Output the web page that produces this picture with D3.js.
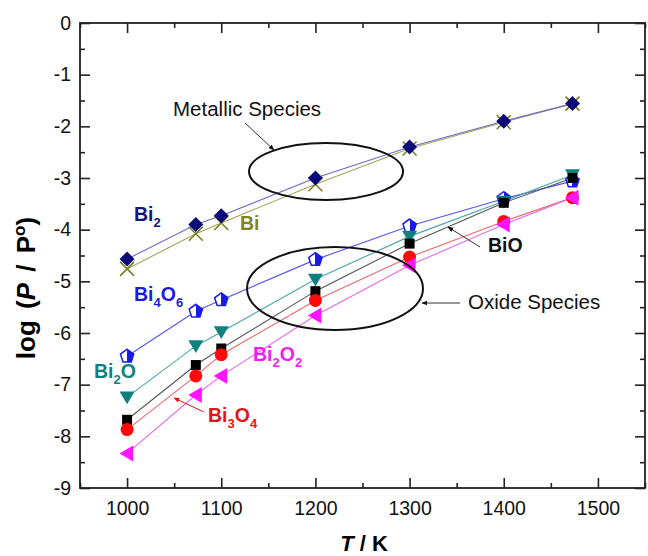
<!DOCTYPE html>
<html lang="en">
<head>
<meta charset="UTF-8">
<title>Bi vapour species</title>
<style>
  body { margin: 0; background: #fff; }
  svg text { font-family: "Liberation Sans", Arial, sans-serif; }
</style>
</head>
<body>
<script src="https://cdn.jsdelivr.net/npm/d3@7/dist/d3.min.js"></script>
<script>
// temperatures (K) and log(P/P°)
const temps = [1000, 1073, 1100, 1200, 1300, 1400, 1473]
const bi2   = [-4.57, -3.90, -3.73, -3.00, -2.40, -1.90, -1.56]
const bi    = [-4.76, -4.08, -3.87, -3.12, -2.43, -1.92, -1.56]
const bi4o6 = [-6.45, -5.58, -5.36, -4.58, -3.93, -3.40, -3.06]
const bi2o  = [-7.24, -6.25, -5.98, -4.96, -4.13, -3.45, -2.94]
const bio   = [-7.68, -6.62, -6.30, -5.19, -4.27, -3.48, -3.00]
const bi3o4 = [-7.87, -6.83, -6.42, -5.37, -4.53, -3.84, -3.38]
const bi2o2 = [-8.33, -7.20, -6.83, -5.66, -4.69, -3.90, -3.38]

const xMajor = [1000, 1100, 1200, 1300, 1400, 1500]
const xMinor = [950, 1050, 1150, 1250, 1350, 1450, 1550]
const yMajor = [0, -1, -2, -3, -4, -5, -6, -7, -8, -9]
const yMinor = [-0.5, -1.5, -2.5, -3.5, -4.5, -5.5, -6.5, -7.5, -8.5]

const width = 648
const height = 556
const pLeft = 80, pRight = 645, pTop = 23, pBottom = 488

const svg = d3.select('body').append('svg')
  .attr('width', width)
  .attr('height', height)

const x = d3.scaleLinear().domain([950, 1550]).range([pLeft, pRight])
const y = d3.scaleLinear().domain([-9, 0]).range([pBottom, pTop])

// ---- axes (ticks point inward, mirrored on top/right)
function tickAxis(axis, tr, size, vals, labels) {
  const g = svg.append('g').attr('transform', tr)
    .call(axis.tickValues(vals).tickSize(size).tickPadding(9)
      .tickFormat(labels ? (d => String(d)) : ''))
  g.select('.domain').remove()
  g.selectAll('line').attr('stroke', '#222').attr('stroke-width', 1.6)
  g.selectAll('text').attr('font-size', 19.5).attr('fill', '#111')
  return g
}
const bx = tickAxis(d3.axisBottom(x), `translate(0,${pBottom})`, -10, xMajor, true)
bx.selectAll('text').attr('y', 27).attr('dy', 0)
tickAxis(d3.axisBottom(x), `translate(0,${pBottom})`, -5, xMinor, false)
tickAxis(d3.axisTop(x), `translate(0,${pTop})`, -10, xMajor, false)
tickAxis(d3.axisTop(x), `translate(0,${pTop})`, -5, xMinor, false)
tickAxis(d3.axisLeft(y), `translate(${pLeft},0)`, -10, yMajor, true)
tickAxis(d3.axisLeft(y), `translate(${pLeft},0)`, -5, yMinor, false)
tickAxis(d3.axisRight(y), `translate(${pRight},0)`, -10, yMajor, false)
tickAxis(d3.axisRight(y), `translate(${pRight},0)`, -5, yMinor, false)

svg.append('rect')
  .attr('x', pLeft).attr('y', pTop)
  .attr('width', pRight - pLeft).attr('height', pBottom - pTop)
  .attr('fill', 'none').attr('stroke', '#222').attr('stroke-width', 1.8)

// axis titles
const yt = svg.append('text')
  .attr('transform', `translate(35,288) rotate(-90)`)
  .attr('text-anchor', 'middle')
  .attr('font-size', 26).attr('font-weight', 'bold')
  .attr('word-spacing', 4)
yt.append('tspan').text('log (')
yt.append('tspan').attr('font-style', 'italic').text('P')
yt.append('tspan').text(' / P')
yt.append('tspan').attr('font-size', 17).attr('dy', -10).text('o')
yt.append('tspan').attr('dy', 10).text(')')

const xt = svg.append('text')
  .attr('x', 364).attr('y', 551)
  .attr('text-anchor', 'middle')
  .attr('font-size', 22).attr('font-weight', 'bold')
xt.append('tspan').attr('font-style', 'italic').text('T')
xt.append('tspan').text(' / K')

// ---- marker shapes
const sym = {
  diamond: r => `M0,${-r}L${r},0L0,${r}L${-r},0Z`,
  cross: r => `M${-r},${-r}L${r},${r}M${-r},${r}L${r},${-r}`,
  square: r => `M${-r},${-r}H${r}V${r}H${-r}Z`,
  down: r => `M${-r},${-r * 0.75}H${r}L0,${r * 0.95}Z`,
  leftTri: r => `M${-r * 0.95},0L${r * 0.75},${-r}V${r}Z`,
  pentagon: r => {
    const pts = d3.range(5).map(i => {
      const a = -Math.PI / 2 + i * 2 * Math.PI / 5
      return [r * Math.cos(a), r * Math.sin(a)]
    })
    return 'M' + pts.join('L') + 'Z'
  }
}

const defs = svg.append('defs')
const grad = defs.append('linearGradient').attr('id', 'halfBlue')
grad.append('stop').attr('offset', '50%').attr('stop-color', '#fff')
grad.append('stop').attr('offset', '50%').attr('stop-color', '#1a1ae6')

const series = [
  { vals: bi,    line: '#a3a35a', shape: 'cross',    r: 7,   fill: 'none',    stroke: '#7d7d1e', sw: 1.6 },
  { vals: bi2,   line: '#6b6bc4', shape: 'diamond',  r: 7.5, fill: '#0a0a78', stroke: 'none',    sw: 0 },
  { vals: bi4o6, line: '#5555e8', shape: 'pentagon', r: 7,   fill: 'url(#halfBlue)', stroke: '#1a1ae6', sw: 1.5 },
  { vals: bi2o,  line: '#4aa5a5', shape: 'down',     r: 7.5, fill: '#0e8080', stroke: 'none',    sw: 0 },
  { vals: bio,   line: '#555555', shape: 'square',   r: 5,   fill: '#000',    stroke: 'none',    sw: 0 },
  { vals: bi3o4, line: '#e86a6a', shape: 'circle',   r: 6.5, fill: '#ff0a0a', stroke: 'none',    sw: 0 },
  { vals: bi2o2, line: '#e66ae6', shape: 'leftTri',  r: 8,   fill: '#ff14ff', stroke: 'none',    sw: 0 }
]

const line = d3.line().x(d => x(d[0])).y(d => y(d[1]))

series.forEach(s => {
  svg.append('path')
    .datum(temps.map((t, i) => [t, s.vals[i]]))
    .attr('fill', 'none')
    .attr('stroke', s.line)
    .attr('stroke-width', 1.1)
    .attr('d', line)
})

series.forEach(s => {
  const g = svg.append('g')
  temps.forEach((t, i) => {
    if (s.shape === 'circle') {
      g.append('circle')
        .attr('cx', x(t)).attr('cy', y(s.vals[i])).attr('r', s.r)
        .attr('fill', s.fill)
    } else {
      g.append('path')
        .attr('transform', `translate(${x(t)},${y(s.vals[i])})`)
        .attr('d', sym[s.shape](s.r))
        .attr('fill', s.fill)
        .attr('stroke', s.stroke)
        .attr('stroke-width', s.sw)
    }
  })
})

// ---- species labels with subscripts
function chem(formula, px, py, color) {
  const t = svg.append('text')
    .attr('x', px).attr('y', py)
    .attr('font-size', 19.5).attr('font-weight', 'bold')
    .attr('fill', color)
  const parts = formula.match(/[A-Za-z]+|\d+/g)
  parts.forEach(p => {
    if (/\d/.test(p)) {
      t.append('tspan').attr('font-size', 13).attr('dy', 6).text(p)
    } else {
      t.append('tspan').attr('dy', t.selectAll('tspan').size() ? -6 : 0).text(p)
    }
  })
}
chem('Bi2', 134, 227, '#14147d')
chem('Bi', 240, 236, '#83831a')
chem('Bi4O6', 134, 307, '#1c1ce0')
chem('Bi2O', 94, 384, '#127f7f')
chem('Bi2O2', 253, 367, '#f01cf0')
chem('Bi3O4', 208, 428, '#e41414')
chem('BiO', 488, 258, '#111')

defs.append('marker')
  .attr('id', 'arrowBlack').attr('viewBox', '0 0 10 10')
  .attr('refX', 9).attr('refY', 5)
  .attr('markerWidth', 6).attr('markerHeight', 6)
  .attr('orient', 'auto')
  .append('path').attr('d', 'M0,1L10,5L0,9Z').attr('fill', '#111')
defs.append('marker')
  .attr('id', 'arrowRed').attr('viewBox', '0 0 10 10')
  .attr('refX', 9).attr('refY', 5)
  .attr('markerWidth', 6).attr('markerHeight', 6)
  .attr('orient', 'auto')
  .append('path').attr('d', 'M0,1L10,5L0,9Z').attr('fill', '#e41414')

function arrow(x1, y1, x2, y2, id, color) {
  svg.append('line')
    .attr('x1', x1).attr('y1', y1).attr('x2', x2).attr('y2', y2)
    .attr('stroke', color).attr('stroke-width', 1)
    .attr('marker-end', `url(#${id})`)
}
arrow(204, 412, 174, 398, 'arrowRed', '#e41414')
arrow(480, 247, 448, 227, 'arrowBlack', '#333')

// ---- group annotations
svg.append('ellipse')
  .attr('cx', 326).attr('cy', 171.5).attr('rx', 77).attr('ry', 28.5)
  .attr('fill', 'none').attr('stroke', '#111').attr('stroke-width', 2)
svg.append('ellipse')
  .attr('cx', 335).attr('cy', 288.5).attr('rx', 88).attr('ry', 41.5)
  .attr('fill', 'none').attr('stroke', '#111').attr('stroke-width', 2)

svg.append('text')
  .attr('x', 173).attr('y', 116)
  .attr('font-size', 20.5).attr('fill', '#111')
  .text('Metallic Species')
arrow(245, 123, 274, 150, 'arrowBlack', '#333')

svg.append('text')
  .attr('x', 468).attr('y', 309)
  .attr('font-size', 20.5).attr('fill', '#111')
  .text('Oxide Species')
arrow(460, 303, 422, 303, 'arrowBlack', '#333')
</script>
</body>
</html>
